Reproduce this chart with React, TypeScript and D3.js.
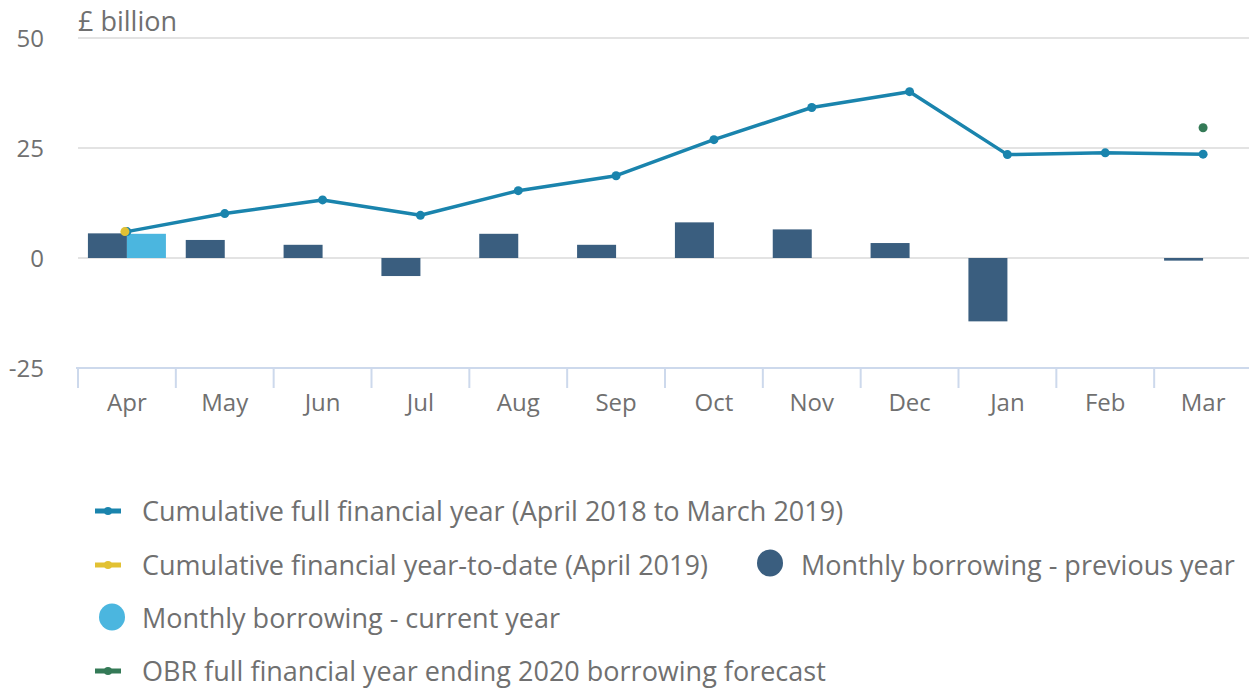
import React from "react";
import * as d3 from "d3";

const months = ["Apr","May","Jun","Jul","Aug","Sep","Oct","Nov","Dec","Jan","Feb","Mar"];
const prevYear = [5.6, 4.1, 3.0, -4.1, 5.5, 3.0, 8.1, 6.5, 3.4, -14.4, 0.0, -0.6];
const currYear: (number | null)[] = [5.5, null, null, null, null, null, null, null, null, null, null, null];
const cumFull = [6.0, 10.1, 13.2, 9.7, 15.3, 18.7, 26.9, 34.2, 37.8, 23.5, 23.9, 23.6];
const cumYTD: (number | null)[] = [6.0];
const obrForecast = 29.6;
const yTicks = [50, 25, 0, -25];

const legendRows = [
  { label: "Cumulative full financial year (April 2018 to March 2019)", kind: "line", color: "#1a84ad" },
  { label: "Cumulative financial year-to-date (April 2019)", kind: "line", color: "#e2c133" },
  { label: "Monthly borrowing - previous year", kind: "dot", color: "#3a5e7f" },
  { label: "Monthly borrowing - current year", kind: "dot", color: "#4bb6df" },
  { label: "OBR full financial year ending 2020 borrowing forecast", kind: "line", color: "#347a57" },
];

export default function App() {
  const W = 1249, H = 688;
  const font = "'Open Sans', sans-serif";
  const textColor = "#707070";
  const x = d3.scaleBand().domain(months).range([78, 1252]);
  const y = d3.scaleLinear().domain([-25, 50]).range([368, 38]);
  const bw = 39;
  const cx = (m: string) => (x(m) as number) + x.bandwidth() / 2;
  const line = d3.line<number>().x((_, i) => cx(months[i])).y(d => y(d));

  const legendPos = [
    { x: 95, y: 511, ty: 511, tx: 142 },
    { x: 95, y: 565, ty: 565, tx: 142 },
    { x: 770, y: 563, ty: 565, tx: 801 },
    { x: 112, y: 617, ty: 618, tx: 142 },
    { x: 95, y: 671, ty: 671, tx: 142 },
  ];

  return (
    <svg width={W} height={H} style={{ position: "absolute", left: 0, top: 0, background: "#fff" }} fontFamily={font}>
      {yTicks.map(t => (
        <g key={t}>
          {t !== -25 && <line x1={78} x2={1249} y1={y(t)} y2={y(t)} stroke="#e3e3e3" strokeWidth={2} />}
          <text x={44} y={y(t) + 9} textAnchor="end" fontSize={24} fill={textColor}>{t}</text>
        </g>
      ))}
      <text x={78} y={31} fontSize={27} fill={textColor}>£ billion</text>
      <line x1={76} x2={1249} y1={368} y2={368} stroke="#cdd9ec" strokeWidth={2} />
      {months.map(m => (
        <g key={m}>
          <line x1={x(m) as number} x2={x(m) as number} y1={368} y2={388} stroke="#cdd9ec" strokeWidth={2} />
          <text x={cx(m)} y={411} textAnchor="middle" fontSize={24} fill={textColor}>{m}</text>
        </g>
      ))}
      {prevYear.map((v, i) => (
        <rect key={"p" + i} x={cx(months[i]) - bw} width={bw} y={Math.min(y(v), y(0))} height={Math.max(Math.abs(y(v) - y(0)), 0)} fill="#3a5e7f" />
      ))}
      {currYear.map((v, i) => v == null ? null : (
        <rect key={"c" + i} x={cx(months[i])} width={bw} y={Math.min(y(v), y(0))} height={Math.abs(y(v) - y(0))} fill="#4bb6df" />
      ))}
      <path d={line(cumFull) || ""} fill="none" stroke="#1a84ad" strokeWidth={3.5} strokeLinejoin="round" />
      {cumFull.map((v, i) => (
        <circle key={"f" + i} cx={cx(months[i])} cy={y(v)} r={4.5} fill="#1a84ad" />
      ))}
      {cumYTD.map((v, i) => v == null ? null : (
        <circle key={"y" + i} cx={cx(months[i]) - 2} cy={y(v)} r={4.5} fill="#e2c133" />
      ))}
      <circle cx={cx("Mar")} cy={y(obrForecast)} r={4.5} fill="#347a57" />
      {legendRows.map((r, i) => {
        const p = legendPos[i];
        return (
          <g key={r.label}>
            {r.kind === "line" ? (
              <g>
                <line x1={p.x} x2={p.x + 26} y1={p.y} y2={p.y} stroke={r.color} strokeWidth={5} />
                <circle cx={p.x + 13} cy={p.y} r={4} fill={r.color} />
              </g>
            ) : (
              <ellipse cx={p.x} cy={p.y} rx={13} ry={13.5} fill={r.color} />
            )}
            <text x={p.tx} y={p.ty + 10} fontSize={27} fill={textColor}>{r.label}</text>
          </g>
        );
      })}
    </svg>
  );
}
